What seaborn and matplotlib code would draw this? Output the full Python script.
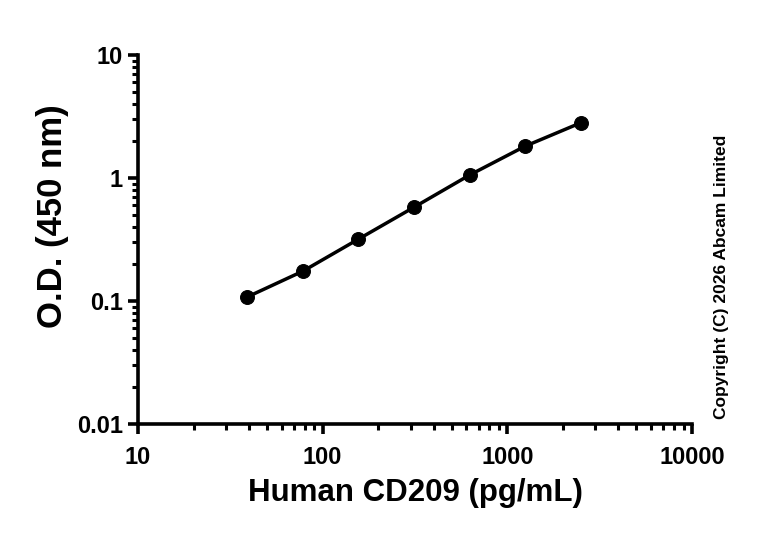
import numpy as np
import pandas as pd
import matplotlib
matplotlib.use('Agg')
import matplotlib.pyplot as plt
import seaborn as sns
from matplotlib.ticker import LogLocator, FixedLocator, NullFormatter

# Standard curve values
conc = [39.06, 78.13, 156.25, 312.5, 625, 1250, 2500]
od = [0.108, 0.175, 0.319, 0.58, 1.06, 1.82, 2.82]

x_ticks = [10, 100, 1000, 10000]
x_ticklabels = ['10', '100', '1000', '10000']
y_ticks = [0.01, 0.1, 1, 10]
y_ticklabels = ['0.01', '0.1', '1', '10']

data = pd.DataFrame({'conc': conc, 'od': od})

sns.set_style('ticks')
plt.rcParams['font.family'] = ['Liberation Sans', 'DejaVu Sans']
plt.rcParams['font.weight'] = 'bold'
plt.rcParams['text.color'] = 'black'
plt.rcParams['axes.labelcolor'] = 'black'

fig = plt.figure(figsize=(7.68, 5.36), dpi=100)
ax = fig.add_axes([0.1797, 0.209, 0.7213, 0.688])

sns.lineplot(data=data, x='conc', y='od', ax=ax, color='black', linewidth=2.5,
             marker='o', markersize=10, markeredgecolor='black', markerfacecolor='black')

ax.set_xscale('log')
ax.set_yscale('log')
ax.set_xlim(10, 10000)
ax.set_ylim(0.01, 10)

ax.xaxis.set_major_locator(FixedLocator(x_ticks))
ax.yaxis.set_major_locator(FixedLocator(y_ticks))
ax.xaxis.set_minor_locator(LogLocator(base=10, subs=np.arange(2, 10)))
ax.yaxis.set_minor_locator(LogLocator(base=10, subs=np.arange(2, 10)))
ax.xaxis.set_minor_formatter(NullFormatter())
ax.yaxis.set_minor_formatter(NullFormatter())
ax.set_xticklabels(x_ticklabels)
ax.set_yticklabels(y_ticklabels)

for side in ['top', 'right']:
    ax.spines[side].set_visible(False)
for side in ['left', 'bottom']:
    ax.spines[side].set_linewidth(2.6)
    ax.spines[side].set_color('black')

ax.tick_params(which='major', length=7, width=2.6, labelsize=17, colors='black')
ax.tick_params(axis='x', which='major', pad=9)
ax.tick_params(axis='y', which='major', pad=4)
ax.tick_params(which='minor', length=4.5, width=2.2, colors='black')
for lab in ax.get_xticklabels() + ax.get_yticklabels():
    lab.set_fontweight('bold')

ax.set_xlabel('Human CD209 (pg/mL)', fontsize=22.5, fontweight='bold', labelpad=6)
ax.set_ylabel('O.D. (450 nm)', fontsize=25, fontweight='bold')
ax.yaxis.set_label_coords(-0.125, 0.564)

fig.text(0.940, 0.483, 'Copyright (C) 2026 Abcam Limited', rotation=90,
         fontsize=12.5, fontweight='bold', ha='center', va='center')

fig.savefig('out.png', dpi=100)
